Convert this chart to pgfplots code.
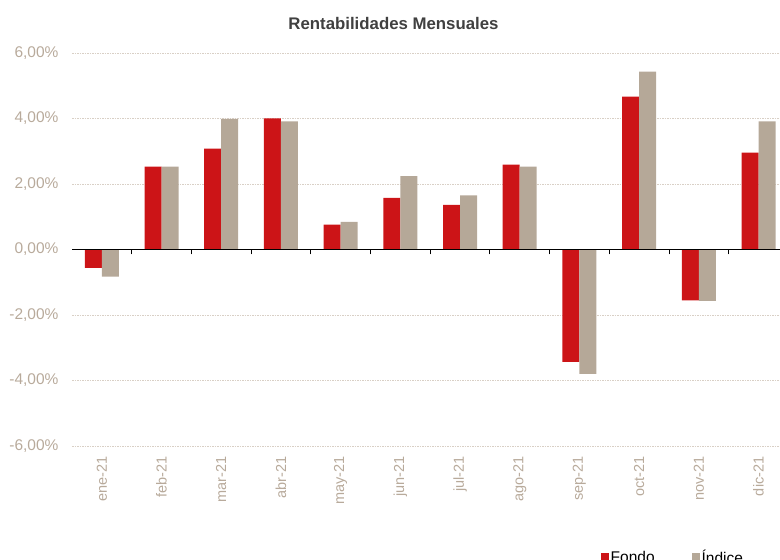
\documentclass[border=0pt]{standalone}
\usepackage{pgfplots}
\usepackage{pgfplotstable}
\pgfplotsset{compat=1.18}
\usepackage{fontspec}
\setmainfont{Liberation Sans}
\definecolor{fondo}{HTML}{CC1417}
\definecolor{indice}{HTML}{B5A898}
\definecolor{lbl}{HTML}{B8AA9B}
\definecolor{grd}{HTML}{D9D0C6}
\definecolor{ttl}{HTML}{404040}

\pgfplotstableread{
x fondo indice
0 -0.56 -0.83
1 2.53 2.53
2 3.08 3.99
3 4.00 3.91
4 0.76 0.84
5 1.58 2.24
6 1.36 1.65
7 2.59 2.53
8 -3.43 -3.80
9 4.67 5.43
10 -1.55 -1.57
11 2.96 3.91
}\datatab

\begin{document}
\begin{tikzpicture}[x=1pt,y=1pt]
\path[use as bounding box] (0,0) rectangle (780,560);
\begin{axis}[
  at={(72pt,114pt)}, anchor=south west,
  scale only axis, width=708pt, height=393pt,
  xmin=-0.5, xmax=11.36, ymin=-6, ymax=6,
  axis line style={draw=none},
  major tick length=0pt,
  ytick={-6,-4,-2,0,2,4,6},
  yticklabels={-6{,}00\%,-4{,}00\%,-2{,}00\%,0{,}00\%,2{,}00\%,4{,}00\%,6{,}00\%},
  yticklabel style={font=\fontsize{15.5}{18}\selectfont, text=lbl, xshift=-10pt},
  xtick={0,...,11},
  xticklabels={ene-21,feb-21,mar-21,abr-21,may-21,jun-21,jul-21,ago-21,sep-21,oct-21,nov-21,dic-21},
  xticklabel style={font=\fontsize{14.5}{17}\selectfont, text=lbl, rotate=90, anchor=east, xshift=-7pt},
  ymajorgrids,
  grid style={grd, dash pattern=on 1.5pt off 1pt, line width=0.8pt},
  ybar, bar width=17pt,
  clip=false,
  legend style={draw=none, fill=none, at={(0.7465,-0.2828)}, anchor=west,
    font=\fontsize{15.5}{18}\selectfont, legend columns=2,
    /tikz/every even column/.append style={column sep=35pt},
    inner sep=0pt},
  legend image code/.code={\fill[#1] (0pt,-4pt) rectangle (8pt,4pt);},
]
\addplot[fill=fondo, draw=none, bar shift=-8.5pt] table[x=x, y=fondo] {\datatab};
\addlegendentry{Fondo}
\addplot[fill=indice, draw=none, bar shift=8.5pt] table[x=x, y=indice] {\datatab};
\addlegendentry{Índice}
\end{axis}
\begin{axis}[
  at={(72pt,114pt)}, anchor=south west,
  scale only axis, width=708pt, height=393pt,
  xmin=-0.5, xmax=11.36, ymin=-6, ymax=6,
  hide y axis,
  axis x line=middle,
  x axis line style={-, black, line width=0.9pt},
  xtick={-0.5,0.5,...,10.5},
  xticklabels={},
  tick align=outside,
  major tick length=5pt,
  x tick style={black, line width=0.8pt},
]
\addplot[draw=none] coordinates {(0,0)};
\end{axis}
\node[font=\fontsize{16.8}{19}\selectfont\bfseries, text=ttl] at (393.5,536) {Rentabilidades Mensuales};
\end{tikzpicture}
\end{document}
